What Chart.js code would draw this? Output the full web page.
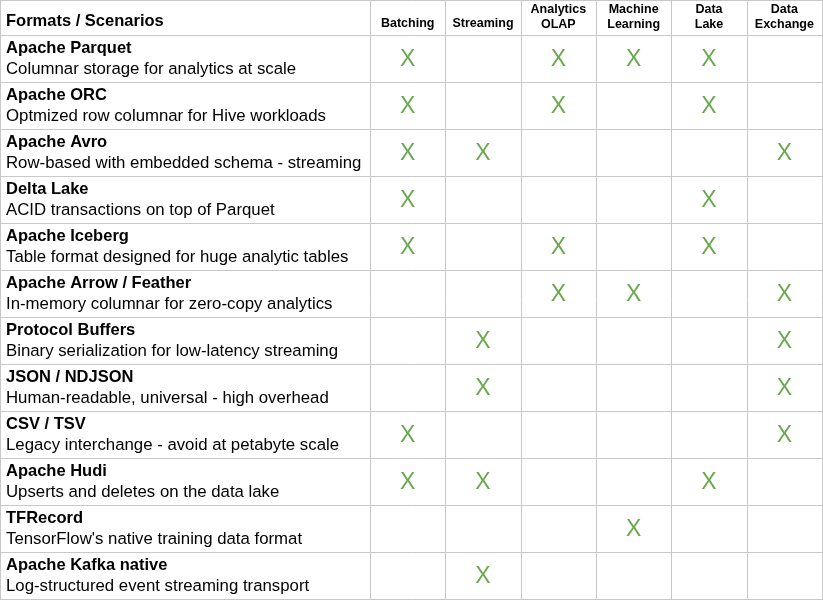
<!DOCTYPE html>
<html><head><meta charset="utf-8">
<script src="https://cdn.jsdelivr.net/npm/chart.js@4"></script>
<style>html,body{margin:0;padding:0;background:#fff}#w{width:823px;height:600px}</style>
</head><body><div id="w"><canvas id="c"></canvas></div>
<script>
const formats=["Apache Parquet","Apache ORC","Apache Avro","Delta Lake","Apache Iceberg","Apache Arrow / Feather","Protocol Buffers","JSON / NDJSON","CSV / TSV","Apache Hudi","TFRecord","Apache Kafka native"];
const descriptions=["Columnar storage for analytics at scale","Optmized row columnar for Hive workloads","Row-based with embedded schema - streaming","ACID transactions on top of Parquet","Table format designed for huge analytic tables","In-memory columnar for zero-copy analytics","Binary serialization for low-latency streaming","Human-readable, universal - high overhead","Legacy interchange - avoid at petabyte scale","Upserts and deletes on the data lake","TensorFlow's native training data format","Log-structured event streaming transport"];
const scenarios=[["Batching"],["Streaming"],["Analytics","OLAP"],["Machine","Learning"],["Data","Lake"],["Data","Exchange"]];
const batching=[1,1,1,1,1,0,0,0,1,1,0,0];
const streaming=[0,0,1,0,0,0,1,1,0,1,0,1];
const analytics=[1,1,0,0,1,1,0,0,0,0,0,0];
const ml=[1,0,0,0,0,1,0,0,0,0,1,0];
const dataLake=[1,1,0,1,1,0,0,0,0,1,0,0];
const dataExchange=[0,0,1,0,0,1,1,1,1,0,0,0];
const cols=[batching,streaming,analytics,ml,dataLake,dataExchange];
const pts=[];
cols.forEach((c,ci)=>c.forEach((v,ri)=>{if(v)pts.push({x:ci+0.5,y:ri+0.5});}));
const GRID='#c8c8c8';
const tablePlugin={id:'tbl',afterDatasetsDraw(ch){
 const ctx=ch.ctx,xs=ch.scales.x,ys=ch.scales.y;
 ctx.save();
 ctx.strokeStyle=GRID;ctx.lineWidth=1;
 const top=ys.getPixelForValue(0),bot=ys.getPixelForValue(formats.length);
 for(let r=0;r<=formats.length;r++){const y=Math.round(ys.getPixelForValue(r))+0.5;ctx.beginPath();ctx.moveTo(0,y);ctx.lineTo(823,y);ctx.stroke();}
 ctx.beginPath();ctx.moveTo(0,0.5);ctx.lineTo(823,0.5);ctx.stroke();
 [0.5,822.5].forEach(x=>{ctx.beginPath();ctx.moveTo(x,0);ctx.lineTo(x,bot);ctx.stroke();});
 for(let c=0;c<=scenarios.length;c++){const x=Math.round(xs.getPixelForValue(c))+0.5;ctx.beginPath();ctx.moveTo(x,0);ctx.lineTo(x,bot);ctx.stroke();}
 ctx.fillStyle='#000';ctx.textBaseline='middle';
 ctx.font='bold 16.5px Arial, "Liberation Sans"';ctx.textAlign='left';
 ctx.fillText('Formats / Scenarios',6,top/2+4);
 ctx.font='bold 12.5px Arial, "Liberation Sans"';ctx.textAlign='center';
 scenarios.forEach((s,i)=>{const x=xs.getPixelForValue(i+0.5);
  if(s.length===1)ctx.fillText(s[0],x,top/2+6);else{ctx.fillText(s[0],x,top/2-8);ctx.fillText(s[1],x,top/2+7);}});
 ctx.textAlign='left';
 formats.forEach((f,i)=>{const y0=ys.getPixelForValue(i);
  ctx.font='bold 16.5px Arial, "Liberation Sans"';ctx.fillText(f,6,y0+13);
  ctx.font='16.8px Arial, "Liberation Sans"';ctx.fillText(descriptions[i],6,y0+34);});
 ctx.fillStyle='#6aa84f';ctx.font='23px Arial, "Liberation Sans"';ctx.textAlign='center';
 ch.getDatasetMeta(0).data.forEach(p=>ctx.fillText('X',p.x,p.y+1));
 ctx.restore();}};
new Chart(document.getElementById('c'),{type:'scatter',
 data:{datasets:[{data:pts,pointRadius:0,pointHoverRadius:0}]},
 options:{responsive:true,maintainAspectRatio:false,animation:false,events:[],
  layout:{padding:{left:370,top:35,right:1,bottom:1}},
  plugins:{legend:{display:false},tooltip:{enabled:false}},
  scales:{x:{type:'linear',min:0,max:6,display:false},
          y:{type:'linear',min:0,max:12,reverse:true,display:false}}},
 plugins:[tablePlugin]});
</script></body></html>
